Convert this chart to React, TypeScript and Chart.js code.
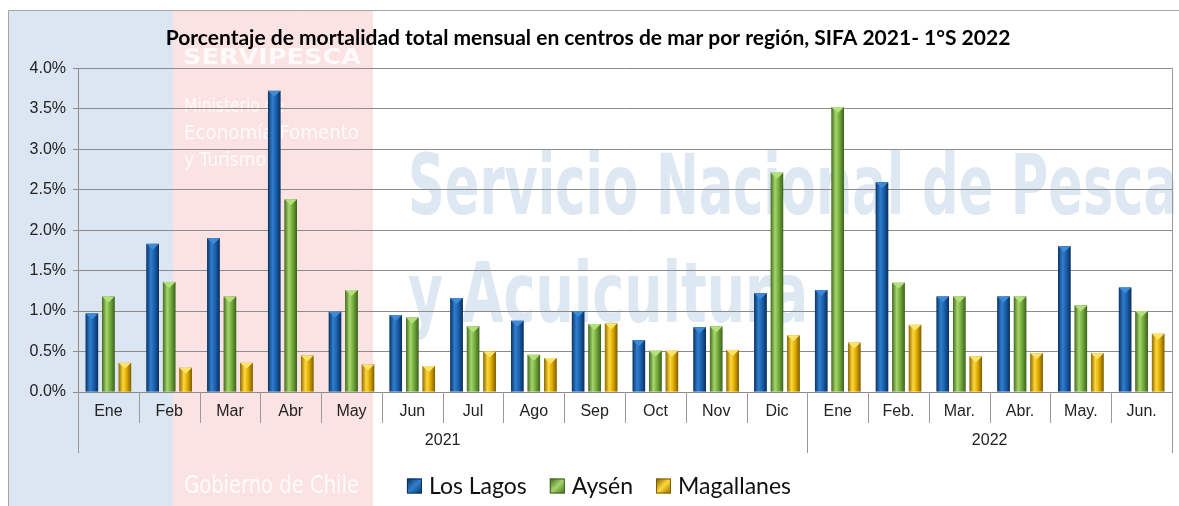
import React, { useEffect, useRef } from 'react';
import { Chart, registerables } from 'chart.js';

Chart.register(...registerables);

const months = ['Ene', 'Feb', 'Mar', 'Abr', 'May', 'Jun', 'Jul', 'Ago', 'Sep', 'Oct', 'Nov', 'Dic', 'Ene', 'Feb.', 'Mar.', 'Abr.', 'May.', 'Jun.'];
const years = ['2021', '2022'];
const yearSpans = [12, 6];
const seriesNames = ['Los Lagos', 'Aysén', 'Magallanes'];
const losLagos = [0.97, 1.83, 1.90, 3.72, 0.99, 0.95, 1.16, 0.88, 1.00, 0.64, 0.80, 1.22, 1.26, 2.59, 1.18, 1.18, 1.80, 1.29];
const aysen = [1.18, 1.36, 1.18, 2.38, 1.26, 0.92, 0.81, 0.46, 0.84, 0.51, 0.81, 2.71, 3.52, 1.35, 1.18, 1.18, 1.07, 1.00];
const magallanes = [0.36, 0.30, 0.36, 0.45, 0.34, 0.32, 0.50, 0.42, 0.85, 0.51, 0.52, 0.70, 0.61, 0.83, 0.44, 0.48, 0.48, 0.72];
const yMin = 0;
const yMax = 4;
const yStep = 0.5;
const titleText = 'Porcentaje de mortalidad total mensual en centros de mar por región, SIFA 2021- 1°S 2022';

const palettes = [
  { base: '#1a5ea8', stops: ['#0b3466', '#2f7fcf', '#1b5fab', '#0a2f5c'], cap: '#3d8ad6' },
  { base: '#78b043', stops: ['#446e20', '#a6d66c', '#72a83c', '#3d631c'], cap: '#b4e07c' },
  { base: '#e6b400', stops: ['#8f6a00', '#ffd83a', '#dcaa00', '#7e5d00'], cap: '#ffe36a' },
];

const backgroundPlugin = {
  id: 'bgWatermark',
  beforeDraw(chart: any) {
    const ctx = chart.ctx;
    const W = chart.width;
    const H = chart.height;
    ctx.save();
    ctx.fillStyle = '#ffffff';
    ctx.fillRect(0, 0, W, H);
    ctx.fillStyle = '#dce6f2';
    ctx.fillRect(8, 10, 165, H - 10);
    ctx.fillStyle = '#fce3e3';
    ctx.fillRect(173, 10, 200, H - 10);

    const drawFit = (text: string, x: number, y: number, size: number, width: number, color: string, weight = 'normal') => {
      ctx.font = `${weight} ${size}px "DejaVu Sans Condensed", "DejaVu Sans"`;
      const w = ctx.measureText(text).width;
      ctx.save();
      ctx.translate(x, y);
      ctx.scale(width / w, 1);
      ctx.fillStyle = color;
      ctx.textBaseline = 'alphabetic';
      ctx.textAlign = 'left';
      ctx.fillText(text, 0, 0);
      ctx.restore();
    };
    drawFit('Servicio Nacional de Pesca', 408, 214, 84, 770, '#dee8f3', 'bold');
    drawFit('y Acuicultura', 408, 322, 84, 400, '#dee8f3', 'bold');
    drawFit('SERVIPESCA', 183, 64, 22, 178, 'rgba(255,255,255,0.8)', 'bold');
    drawFit('Ministerio de', 184, 112, 20, 100, 'rgba(255,255,255,0.8)');
    drawFit('Economía Fomento', 184, 139, 20, 175, 'rgba(255,255,255,0.8)');
    drawFit('y Turismo', 184, 166, 20, 82, 'rgba(255,255,255,0.8)');
    drawFit('Gobierno de Chile', 184, 493, 24, 175, 'rgba(255,255,255,0.85)');

    ctx.strokeStyle = '#a6a6a6';
    ctx.lineWidth = 1;
    ctx.beginPath();
    ctx.moveTo(8.5, H);
    ctx.lineTo(8.5, 10.5);
    ctx.lineTo(W, 10.5);
    ctx.stroke();
    ctx.restore();
  },
};

const barStylePlugin = {
  id: 'barStyle',
  afterDatasetsDraw(chart: any) {
    const ctx = chart.ctx;
    ctx.save();
    chart.data.datasets.forEach((_ds: any, di: number) => {
      const meta = chart.getDatasetMeta(di);
      if (meta.hidden) return;
      const pal = palettes[di];
      meta.data.forEach((el: any) => {
        const { x, y, base, width } = el.getProps(['x', 'y', 'base', 'width'], true);
        const l = x - width / 2;
        const r = x + width / 2;
        const g = ctx.createLinearGradient(l, 0, r, 0);
        g.addColorStop(0, pal.stops[0]);
        g.addColorStop(0.35, pal.stops[1]);
        g.addColorStop(0.65, pal.stops[2]);
        g.addColorStop(1, pal.stops[3]);
        ctx.fillStyle = g;
        ctx.fillRect(l, y, width, base - y);
        const capH = Math.min(6, (base - y) / 2);
        ctx.fillStyle = pal.cap;
        ctx.beginPath();
        ctx.moveTo(l, y);
        ctx.lineTo(r, y);
        ctx.lineTo(x, y + capH);
        ctx.closePath();
        ctx.fill();
      });
    });
    ctx.restore();
  },
};

const axisGroupPlugin = {
  id: 'axisGroups',
  afterDraw(chart: any) {
    const ctx = chart.ctx;
    const xs = chart.scales.x;
    const area = chart.chartArea;
    const n = months.length;
    const step = xs.getPixelForValue(1) - xs.getPixelForValue(0);
    const bounds: number[] = [];
    for (let i = 0; i <= n; i++) {
      bounds.push(i < n ? xs.getPixelForValue(i) - step / 2 : xs.getPixelForValue(n - 1) + step / 2);
    }
    const groupStarts: number[] = [0];
    yearSpans.forEach((s, i) => groupStarts.push(groupStarts[i] + s));
    ctx.save();
    ctx.strokeStyle = '#9a9a9a';
    ctx.lineWidth = 1;
    const rx = Math.round(area.right) + 0.5;
    ctx.beginPath();
    ctx.moveTo(rx, area.top);
    ctx.lineTo(rx, area.bottom);
    ctx.stroke();
    bounds.forEach((bx, i) => {
      const long = groupStarts.includes(i);
      const px = Math.round(bx) + 0.5;
      ctx.beginPath();
      ctx.moveTo(px, area.bottom);
      ctx.lineTo(px, area.bottom + (long ? 61 : 31));
      ctx.stroke();
    });
    ctx.fillStyle = '#222222';
    ctx.font = '16px "Liberation Sans", Arial, sans-serif';
    ctx.textAlign = 'center';
    ctx.textBaseline = 'middle';
    years.forEach((yr, i) => {
      const cx = (bounds[groupStarts[i]] + bounds[groupStarts[i + 1]]) / 2;
      ctx.fillText(yr, cx, area.bottom + 49);
    });
    ctx.restore();
  },
};

const legendPlugin = {
  id: 'customLegend',
  afterDraw(chart: any) {
    const ctx = chart.ctx;
    const centerX = 599;
    const centerY = 486;
    const box = 15;
    const gapText = 7;
    const gapItem = 23;
    ctx.save();
    ctx.font = '23px Lato, "Open Sans", sans-serif';
    ctx.textBaseline = 'middle';
    ctx.textAlign = 'left';
    const items = chart.data.datasets.map((ds: any, i: number) => ({
      text: ds.label,
      w: ctx.measureText(ds.label).width,
      pal: palettes[i],
    }));
    const total = items.reduce((s: number, it: any) => s + box + gapText + it.w, 0) + gapItem * (items.length - 1);
    let x = centerX - total / 2;
    items.forEach((it: any) => {
      const top = centerY - box / 2;
      const g = ctx.createLinearGradient(x, top, x + box, top + box);
      g.addColorStop(0, it.pal.stops[3]);
      g.addColorStop(0.5, it.pal.stops[1]);
      g.addColorStop(1, it.pal.stops[0]);
      ctx.fillStyle = g;
      ctx.fillRect(x, top, box, box);
      ctx.strokeStyle = it.pal.stops[3];
      ctx.lineWidth = 1;
      ctx.strokeRect(x + 0.5, top + 0.5, box - 1, box - 1);
      ctx.fillStyle = '#111111';
      ctx.fillText(it.text, x + box + gapText, centerY + 1);
      x += box + gapText + it.w + gapItem;
    });
    ctx.restore();
  },
};

export default function App() {
  const ref = useRef<HTMLCanvasElement | null>(null);
  useEffect(() => {
    if (!ref.current) return;
    const chart = new Chart(ref.current, {
      type: 'bar',
      data: {
        labels: months,
        datasets: [losLagos, aysen, magallanes].map((d, i) => ({
          label: seriesNames[i],
          data: d,
          backgroundColor: palettes[i].base,
          borderColor: palettes[i].stops[3],
          borderWidth: 1,
          categoryPercentage: 0.815,
          barPercentage: 0.76,
        })),
      },
      options: {
        responsive: false,
        devicePixelRatio: 1,
        animation: false,
        layout: { padding: { left: 4, right: 7, top: 12, bottom: 53.5 } },
        plugins: {
          title: {
            display: true,
            text: titleText,
            color: '#000000',
            font: { family: 'Lato, "Open Sans", sans-serif', size: 21, weight: 'bold' },
            padding: { top: 14, bottom: 17 },
          },
          legend: { display: false },
          tooltip: { enabled: false },
        },
        scales: {
          x: {
            grid: { display: false, drawTicks: false },
            border: { display: true, color: '#8c8c8c' },
            ticks: {
              color: '#222222',
              font: { family: '"Liberation Sans", Arial, sans-serif', size: 16 },
              padding: 10,
              maxRotation: 0,
              autoSkip: false,
            },
            afterFit(scale: any) {
              scale.height = 60.5;
            },
          },
          y: {
            min: yMin,
            max: yMax,
            grid: { color: '#8c8c8c', tickLength: 5 },
            border: { display: true, color: '#8c8c8c' },
            ticks: {
              stepSize: yStep,
              color: '#222222',
              font: { family: '"Liberation Sans", Arial, sans-serif', size: 16 },
              padding: 7,
              callback: (v: any) => Number(v).toFixed(1) + '%',
            },
            afterFit(scale: any) {
              scale.width = 74;
            },
          },
        },
      },
      plugins: [backgroundPlugin, barStylePlugin, axisGroupPlugin, legendPlugin],
    } as any);
    return () => chart.destroy();
  }, []);
  return (
    <div style={{ position: 'fixed', left: 0, top: 0, width: 1179, height: 506, overflow: 'hidden' }}>
      <canvas ref={ref} width={1179} height={506} style={{ display: 'block', width: 1179, height: 506 }} />
    </div>
  );
}
